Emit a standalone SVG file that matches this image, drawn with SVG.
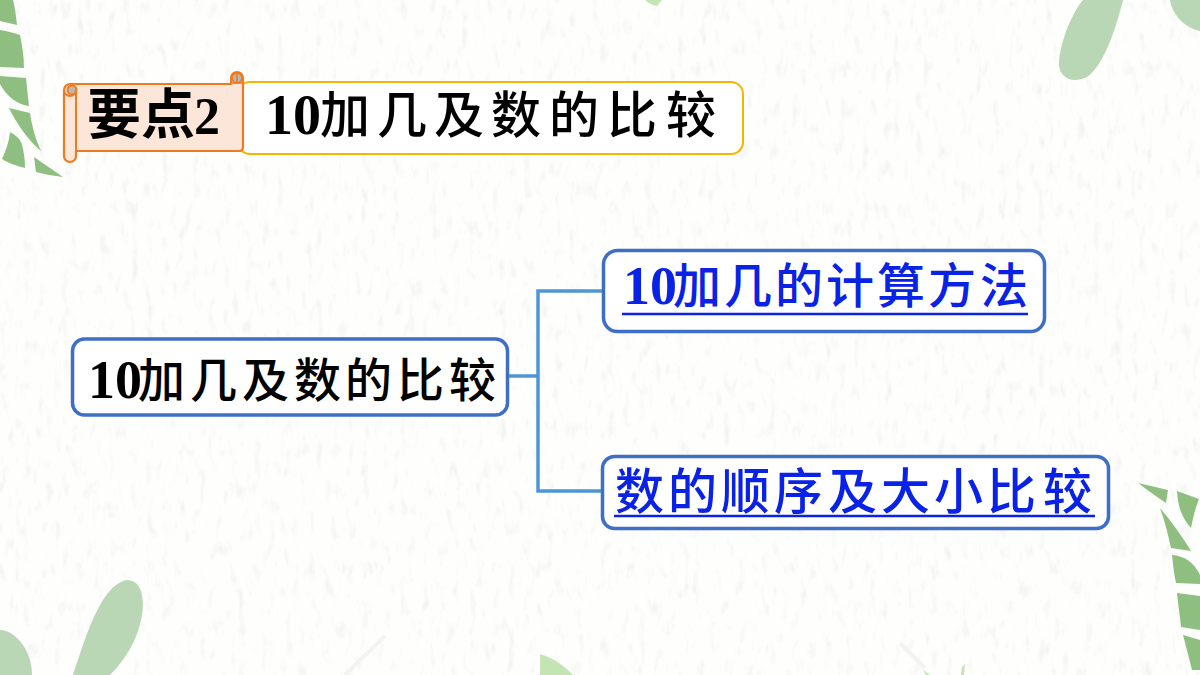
<svg xmlns="http://www.w3.org/2000/svg" width="1200" height="675" viewBox="0 0 1200 675">
  <style>
    .leaf { fill: #8fbf80; }
    .oval { fill: #b9d7b4; }
    .sprout { fill: #c4e4b4; }
    .box { fill: #ffffff; stroke: #3f6fc4; stroke-width: 3.5; }
    .link { fill: none; stroke: #4f95d6; stroke-width: 3.5; }
    text { font-family: "Noto Sans CJK SC", sans-serif; font-weight: 500; }
    .num { font-family: "Liberation Serif", serif; font-weight: 700; }
    .black { fill: #000000; }
    .blue { fill: #0a22e6; }
    .rule { stroke: #0a22e6; stroke-width: 2.5; }
    .scroll { fill: #fce6d9; stroke: #f07a1e; stroke-width: 2.2; stroke-linejoin: round; }
    .curl { fill: #bdb7b2; stroke: #f07a1e; stroke-width: 2; }
  </style>
  <defs>
    <!-- Faint paper fibres, stretched vertically -->
    <filter id="paper" x="0" y="0" width="100%" height="100%">
      <feTurbulence type="fractalNoise" baseFrequency="0.13 0.05" numOctaves="3" seed="7"/>
      <feColorMatrix type="matrix" values="0 0 0 0 0.78  0 0 0 0 0.78  0 0 0 0 0.77  2.2 2.2 0 0 -2.35"/>
    </filter>
  </defs>

  <g id="background">
    <rect width="1200" height="675" fill="#fefefd"/>
    <rect width="1200" height="675" filter="url(#paper)" opacity="0.4"/>
    <path d="M345 675 L385 636 M900 643 L925 668" stroke="#f3f3f0" stroke-width="4" fill="none"/>
  </g>

  <g id="foliage">
    <path class="leaf" d="M0 0H13C15 8 16 16 17 25L0 21Z"/>
    <path class="leaf" d="M0 30C8 31 14 33 20 35C22 45 24 56 24 68L0 67Z"/>
    <path class="leaf" d="M0 76L26 78C27 88 28 97 29 106C18 105 6 96 0 84Z"/>
    <path class="leaf" d="M9 108L30 113C32 127 36 140 41 151C28 140 17 124 9 108Z"/>
    <path class="leaf" d="M10 132C17 136 21 140 22 145C24 152 25 160 25 168C16 166 8 163 2 159C6 150 9 142 10 132Z"/>
    <path class="leaf" d="M34 157L63 177C54 176 44 174 36 172C35 167 35 162 34 157Z"/>
    <path class="leaf" d="M1138 483L1168 490L1166 503C1156 496 1147 490 1138 483Z"/>
    <path class="leaf" d="M1177 491L1199 499C1195 509 1193 518 1191 528C1184 520 1178 510 1177 491Z"/>
    <path class="leaf" d="M1160 508C1172 522 1182 536 1191 551L1171 548C1168 535 1165 521 1160 508Z"/>
    <path class="leaf" d="M1172 555C1184 556 1194 562 1200 575V584L1176 583C1174 574 1173 565 1172 555Z"/>
    <path class="leaf" d="M1177 593L1200 596V630L1181 627C1180 616 1178 604 1177 593Z"/>
    <path class="leaf" d="M1183 635L1200 640V670H1192C1189 658 1186 646 1183 635Z"/>
    <path class="oval" d="M1083 0C1070 15 1058 50 1059 65C1060 78 1072 83 1085 78C1100 70 1113 40 1123 0Z"/>
    <path class="oval" d="M1170 0C1172 15 1185 28 1200 31V0Z"/>
    <path class="oval" d="M0 630C15 630 32 650 32 675H0Z"/>
    <path class="oval" d="M73 675C85 640 100 585 127 580C140 580 145 595 142 615C138 640 125 660 110 675Z"/>
    <path class="sprout" d="M540 654C553 658 565 666 573 675H540Z"/>
    <path class="sprout" d="M645 0H662L657 6C652 5 648 3 645 0Z"/>
    <path class="sprout" d="M923 670L930 675H926ZM962 667L965 664L964 675H961Z"/>
  </g>

  <g id="connectors">
    <path class="link" d="M508 376H538M603 291H538V491H602"/>
  </g>

  <g id="title-bar">
    <rect x="238" y="82" width="505" height="72" rx="12" fill="#ffffff" stroke="#f6b500" stroke-width="2"/>
    <text class="num black" x="265" y="134" font-size="56">10</text>
    <text class="black" y="133" font-size="50" x="320 377 434 491 549 607 666">加几及数的比较</text>
  </g>

  <g id="title-tag">
    <path class="scroll" d="M70 84H231V78A6 6 0 0 1 243 78V147Q243 151 239 151H76V156A6 6 0 0 1 64 156V90A6 6 0 0 1 70 84Z"/>
    <circle class="curl" cx="237" cy="78" r="5"/>
    <path d="M231 83H243M237 73V83" stroke="#f07a1e" stroke-width="1.6" fill="none"/>
    <circle class="curl" cx="72" cy="90" r="4.500"/>
    <path d="M64 90A6 6 0 0 0 76 90V151" stroke="#f07a1e" stroke-width="2" fill="none"/>
    <text class="black" x="87" y="134" font-size="54" style="font-weight:700">要点</text>
    <text class="num black" x="194" y="134" font-size="52">2</text>
  </g>

  <g id="topic">
    <rect class="box" x="72.500" y="339" width="435" height="76" rx="12"/>
    <text class="num black" x="88" y="398" font-size="54">10</text>
    <text class="black" y="397" font-size="47" x="138 190 242 294 345 397 449">加几及数的比较</text>
  </g>

  <g id="branch-method">
    <rect class="box" x="603.500" y="250.500" width="441" height="81" rx="14"/>
    <text class="num blue" x="623" y="304" font-size="54">10</text>
    <text class="blue" y="303" font-size="48" x="673 724 775 826 877 928 980">加几的计算方法</text>
    <path class="rule" d="M622 314H1028"/>
  </g>

  <g id="branch-order">
    <rect class="box" x="602.500" y="456.500" width="506" height="72" rx="12"/>
    <text class="blue" y="509" font-size="49" x="615 668 721 774 828 881 934 987 1043">数的顺序及大小比较</text>
    <path class="rule" d="M614 516H1095"/>
  </g>
</svg>
